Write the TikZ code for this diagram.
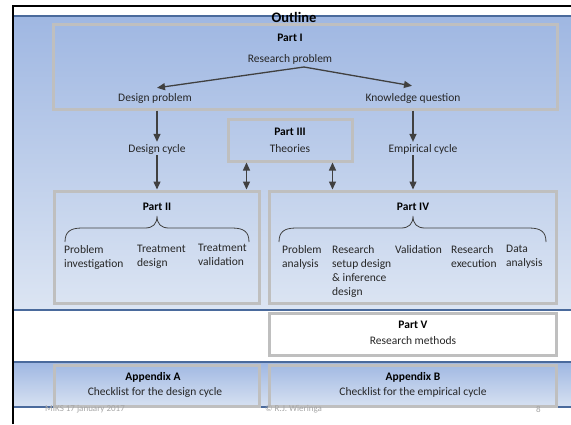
\documentclass[tikz,border=0pt]{standalone}
\usepackage{fontspec}
\setmainfont{Carlito}
\usetikzlibrary{arrows.meta,calc}
\definecolor{bandtop}{HTML}{9FB7E2}
\definecolor{bandbot}{HTML}{DCE5F3}
\definecolor{bandline}{HTML}{4A6A9C}
\definecolor{boxgray}{HTML}{BFBFBF}
\definecolor{ink}{HTML}{404040}
\definecolor{foot}{HTML}{A6A6A6}
\definecolor{txt}{HTML}{262626}

\begin{document}
\begin{tikzpicture}[x=1pt,y=-1pt,
  every node/.style={font=\fontsize{11.5}{14}\selectfont, text=txt, inner sep=1pt},
  graybox/.style={draw=boxgray, line width=3pt, rectangle, inner sep=0pt},
  head/.style={font=\fontsize{11.5}{14}\selectfont\bfseries, text=black},
  item/.style={anchor=north west, align=left, inner sep=0pt},
  arr/.style={draw=ink, line width=1.3pt, -{Triangle[length=8pt,width=7pt]}},
  dbl/.style={draw=ink, line width=1.3pt, {Triangle[length=8pt,width=7pt]}-{Triangle[length=8pt,width=7pt]}},
  brc/.style={draw=ink, line width=0.8pt},
  band/.style={top color=bandtop, bottom color=bandbot, draw=none},
  rule/.style={draw=bandline, line width=1.2pt},
  footer/.style={font=\fontsize{9}{10}\selectfont, text=foot, anchor=west, inner sep=0pt}]

\useasboundingbox (0,0) rectangle (571,424);

% shaded bands and their rules
\shade[band] (14,16) rectangle (571,310);
\shade[band, bottom color=bandbot!92!bandtop] (14,362) rectangle (571,407);
\draw[rule] (14,16) -- (571,16);
\draw[rule] (14,310) -- (571,310);
\draw[rule] (14,362) -- (571,362);
\draw[rule] (14,407) -- (571,407);

% slide frame
\draw[line width=2.5pt, line join=miter] (13,424) -- (13,6) -- (571,6);

% title
\node[font=\fontsize{14.5}{16}\selectfont\bfseries, text=black] (title) at (294,17) {Outline};

% boxes
\node[graybox, minimum width=504pt, minimum height=85pt] (p1) at (305,66.5) {};
\node[graybox, minimum width=124pt, minimum height=42pt] (p3) at (290,140) {};
\node[graybox, minimum width=205pt, minimum height=112pt] (p2) at (156.5,247) {};
\node[graybox, minimum width=287pt, minimum height=112pt] (p4) at (412.5,247) {};
\node[graybox, fill=white, minimum width=287pt, minimum height=42pt] (p5) at (412.5,334) {};
\node[graybox, minimum width=205pt, minimum height=41pt] (apa) at (156.5,385.5) {};
\node[graybox, minimum width=287pt, minimum height=41pt] (apb) at (412.5,385.5) {};

% Part I
\node[head] (p1h) at (290,38) {Part I};
\node (rp) at (290,59) {Research problem};
\node (dp) at (155,98) {Design problem};
\node (kq) at (413,98) {Knowledge question};
\coordinate (fork) at (304,67);
\draw[arr] (fork) -- ($(dp.north)+(2,-4)$);
\draw[arr] (fork) -- ($(kq.north)+(-1,-6)$);

% cycles
\node (dc) at (157,149) {Design cycle};
\node (ec) at (423,149) {Empirical cycle};
\draw[arr, shorten >=1pt] (dc |- p1.south) -- (dc.north);
\draw[arr] (dc.south) -- (dc |- p2.north);
\draw[arr, shorten >=1pt] (kq |- p1.south) -- (kq |- ec.north);
\draw[arr] (kq |- ec.south) -- (kq |- p4.north);

% Part III
\node[head] (p3h) at (290,132) {Part III};
\node (th) at (290,149) {Theories};
\draw[dbl] ([xshift=20pt]p3.south west) -- ([xshift=20pt]p3.south west |- p2.north);
\draw[dbl] ([xshift=-21pt]p3.south east) -- ([xshift=-21pt]p3.south east |- p4.north);

% Part II
\node[head] (p2h) at (157,207) {Part II};
\draw[brc] (65,242) .. controls (65,232) and (70,228) .. (82,228) -- (145,228)
  .. controls (153,228) and (157,224) .. (157,216)
  .. controls (157,224) and (161,228) .. (169,228) -- (232,228)
  .. controls (244,228) and (249,232) .. (249,242);
\node[item] (pi) at (64,245) {Problem\\investigation};
\node[item] (tdes) at (137,245) {Treatment\\design};
\node[item] (tval) at (198,244) {Treatment\\validation};

% Part IV
\node[head] (p4h) at (413,207) {Part IV};
\draw[brc] (279,242) .. controls (279,232) and (284,228) .. (296,228) -- (401,228)
  .. controls (409,228) and (413,224) .. (413,216)
  .. controls (413,224) and (417,228) .. (425,228) -- (529,228)
  .. controls (541,228) and (546,232) .. (546,242);
\node[item] (pa) at (282,245) {Problem\\analysis};
\node[item] (rsd) at (332,245) {Research\\setup design\\\& inference\\design};
\node[item] (val) at (395,245) {Validation};
\node[item] (rex) at (451,245) {Research\\execution};
\node[item] (da) at (506,245) {Data\\analysis};

% Part V
\node[head] (p5h) at (413,325) {Part V};
\node (rm) at (413,341) {Research methods};

% appendices
\node[head] (aah) at (153,377) {Appendix A};
\node (aat) at (155,392) {Checklist for the design cycle};
\node[head] (abh) at (413,377) {Appendix B};
\node (abt) at (413,392) {Checklist for the empirical cycle};

% footer
\node[footer] (f1) at (45,409) {MIKS 17 january 2017};
\node[footer] (f2) at (265,409) {© R.J. Wieringa};
\node[footer] (f3) at (536,409) {8};
\end{tikzpicture}
\end{document}
